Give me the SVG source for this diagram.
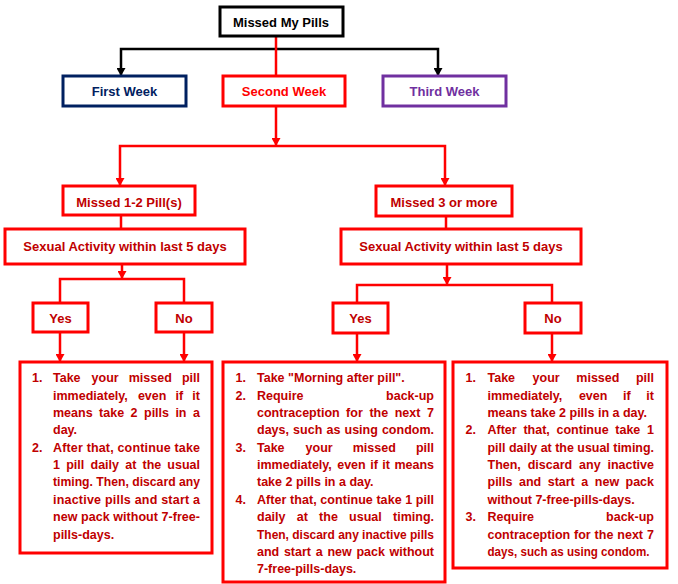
<svg xmlns="http://www.w3.org/2000/svg" width="678" height="584" viewBox="0 0 678 584">
<defs>
<style>
.box{fill:#fff;stroke-width:3}
.red{stroke:#ff0000}
.l{font-family:"Liberation Sans",Arial,sans-serif;font-weight:bold;font-size:13px;text-anchor:middle;fill:#c00000}
.t{font-family:"Liberation Sans",Arial,sans-serif;font-weight:bold;font-size:12.5px;fill:#c00000}
.e{text-anchor:end}
.c{fill:none;stroke-width:2.5}
</style>
<marker id="ar" markerUnits="userSpaceOnUse" markerWidth="9" markerHeight="9" refX="8" refY="4.5" orient="auto"><path d="M0,0 L8,4.5 L0,9 z" fill="#ff0000"/></marker>
<marker id="ab" markerUnits="userSpaceOnUse" markerWidth="9" markerHeight="9" refX="8" refY="4.5" orient="auto"><path d="M0,0 L8,4.5 L0,9 z" fill="#000"/></marker>
</defs>
<rect width="678" height="584" fill="#fff"/>
<g id="connectors">
<path class="c" stroke="#000" d="M276,49 H121 V76" marker-end="url(#ab)"/>
<path class="c" stroke="#000" d="M276,49 H438 V76" marker-end="url(#ab)"/>
<path class="c" stroke="#ff0000" d="M276,36 V76"/>
<path class="c" stroke="#ff0000" d="M276,106 V146" marker-end="url(#ar)"/>
<path class="c" stroke="#ff0000" d="M276,146 H120 V186" marker-end="url(#ar)"/>
<path class="c" stroke="#ff0000" d="M276,146 H445 V186" marker-end="url(#ar)"/>
<path class="c" stroke="#ff0000" d="M121,215 V229"/>
<path class="c" stroke="#ff0000" d="M122,264 V279" marker-end="url(#ar)"/>
<path class="c" stroke="#ff0000" d="M60,303 V279 H184 V303"/>
<path class="c" stroke="#ff0000" d="M60,332 V362" marker-end="url(#ar)"/>
<path class="c" stroke="#ff0000" d="M184,332 V362" marker-end="url(#ar)"/>
<path class="c" stroke="#ff0000" d="M446,216 V229"/>
<path class="c" stroke="#ff0000" d="M447,264 V285" marker-end="url(#ar)"/>
<path class="c" stroke="#ff0000" d="M357,303 V285 H552 V303"/>
<path class="c" stroke="#ff0000" d="M357,333 V362" marker-end="url(#ar)"/>
<path class="c" stroke="#ff0000" d="M552,333 V362" marker-end="url(#ar)"/>
</g>
<g id="root"><rect class="box" x="220" y="7" width="123" height="29" stroke="#000"/><text class="l" x="281" y="27" fill="#000" style="fill:#000">Missed My Pills</text></g>
<g id="first-week"><rect class="box" x="63" y="76" width="123" height="30" stroke="#002060"/><text class="l" x="124.5" y="96" style="fill:#002060">First Week</text></g>
<g id="second-week"><rect class="box red" x="223" y="76" width="122" height="30"/><text class="l" x="284" y="96" style="fill:#ff0000">Second Week</text></g>
<g id="third-week"><rect class="box" x="383" y="76" width="123" height="30" stroke="#7030a0"/><text class="l" x="444.5" y="96" style="fill:#7030a0">Third Week</text></g>
<g id="missed-1-2"><rect class="box red" x="63" y="186" width="132" height="29"/><text class="l" x="129" y="206.5">Missed 1-2 Pill(s)</text></g>
<g id="missed-3"><rect class="box red" x="376" y="186" width="136" height="30"/><text class="l" x="444" y="207">Missed 3 or more</text></g>
<g id="sexual-1"><rect class="box red" x="5" y="229" width="240" height="35"/><text class="l" x="125" y="250.5">Sexual Activity within last 5 days</text></g>
<g id="sexual-2"><rect class="box red" x="341" y="229" width="240" height="35"/><text class="l" x="461" y="250.5">Sexual Activity within last 5 days</text></g>
<g id="yes-1"><rect class="box red" x="33" y="303" width="55" height="29"/><text class="l" x="60.5" y="323">Yes</text></g>
<g id="no-1"><rect class="box red" x="156" y="303" width="56" height="29"/><text class="l" x="184" y="323">No</text></g>
<g id="yes-2"><rect class="box red" x="333" y="303" width="55" height="30"/><text class="l" x="360.5" y="323">Yes</text></g>
<g id="no-2"><rect class="box red" x="525" y="303" width="56" height="30"/><text class="l" x="553" y="323">No</text></g>
<g id="advice-left">
<rect class="box red" x="20" y="362" width="192" height="191"/>
<text class="t" x="32" y="382.3">1.</text>
<text class="t" y="382.3"><tspan x="53">Take</tspan><tspan x="91.6">your</tspan><tspan x="128.7">missed</tspan></text><text class="t e" x="200" y="382.3">pill</text>
<text class="t" y="399.7"><tspan x="53">immediately,</tspan><tspan x="137.9">even</tspan><tspan x="175.6">if</tspan></text><text class="t e" x="200" y="399.7">it</text>
<text class="t" y="417"><tspan x="53">means</tspan><tspan x="99.1">take</tspan><tspan x="130.5">2</tspan><tspan x="144">pills</tspan><tspan x="175.4">in</tspan></text><text class="t e" x="200" y="417">a</text>
<text class="t" x="53" y="434.4">day.</text>
<text class="t" x="32" y="451.7">2.</text>
<text class="t" x="53" y="451.7" textLength="147" lengthAdjust="spacing">After that, continue take</text>
<text class="t" y="469.1"><tspan x="53">1</tspan><tspan x="66.2">pill</tspan><tspan x="90.5">daily</tspan><tspan x="125.2">at</tspan><tspan x="142.5">the</tspan></text><text class="t e" x="200" y="469.1">usual</text>
<text class="t" x="53" y="486.4" textLength="147" lengthAdjust="spacingAndGlyphs">timing. Then, discard any</text>
<text class="t" x="53" y="503.8" textLength="147" lengthAdjust="spacing">inactive pills and start a</text>
<text class="t" x="53" y="521.1" textLength="147" lengthAdjust="spacing">new pack without 7-free-</text>
<text class="t" x="53" y="538.5">pills-days.</text>
</g>
<g id="advice-middle">
<rect class="box red" x="223" y="362" width="222" height="220"/>
<text class="t" x="235.5" y="382.3">1.</text>
<text class="t" x="257" y="382.3">Take "Morning after pill".</text>
<text class="t" x="235.5" y="399.7">2.</text>
<text class="t" x="257" y="399.7">Require</text><text class="t e" x="434" y="399.7">back-up</text>
<text class="t" y="417"><tspan x="257">contraception</tspan><tspan x="346.1">for</tspan><tspan x="369.4">the</tspan><tspan x="394.7">next</tspan></text><text class="t e" x="434" y="417">7</text>
<text class="t" y="434.4"><tspan x="257">days,</tspan><tspan x="293.1">such</tspan><tspan x="326.5">as</tspan><tspan x="344.5">using</tspan></text><text class="t e" x="434" y="434.4">condom.</text>
<text class="t" x="235.5" y="451.7">3.</text>
<text class="t" y="451.7"><tspan x="257">Take</tspan><tspan x="305.6">your</tspan><tspan x="352.7">missed</tspan></text><text class="t e" x="434" y="451.7">pill</text>
<text class="t" y="469.1"><tspan x="257">immediately,</tspan><tspan x="337.2">even</tspan><tspan x="370.2">if</tspan><tspan x="382.3">it</tspan></text><text class="t e" x="434" y="469.1">means</text>
<text class="t" x="257" y="486.4">take 2 pills in a day.</text>
<text class="t" x="235.5" y="503.8">4.</text>
<text class="t" x="257" y="503.8" textLength="177" lengthAdjust="spacing">After that, continue take 1 pill</text>
<text class="t" y="521.1"><tspan x="257">daily</tspan><tspan x="296.75">at</tspan><tspan x="319.1">the</tspan><tspan x="349.1">usual</tspan></text><text class="t e" x="434" y="521.1">timing.</text>
<text class="t" x="257" y="538.5" textLength="177" lengthAdjust="spacingAndGlyphs">Then, discard any inactive pills</text>
<text class="t" y="555.8"><tspan x="257">and</tspan><tspan x="283.9">start</tspan><tspan x="315.7">a</tspan><tspan x="327.4">new</tspan><tspan x="356.4">pack</tspan></text><text class="t e" x="434" y="555.8">without</text>
<text class="t" x="257" y="573.2">7-free-pills-days.</text>
</g>
<g id="advice-right">
<rect class="box red" x="453" y="362" width="214" height="206"/>
<text class="t" x="465.5" y="382.3">1.</text>
<text class="t" y="382.3"><tspan x="487.5">Take</tspan><tspan x="532.6">your</tspan><tspan x="576.3">missed</tspan></text><text class="t e" x="654" y="382.3">pill</text>
<text class="t" y="399.7"><tspan x="487.5">immediately,</tspan><tspan x="578.9">even</tspan><tspan x="623.1">if</tspan></text><text class="t e" x="654" y="399.7">it</text>
<text class="t" x="487.5" y="417">means take 2 pills in a day.</text>
<text class="t" x="465.5" y="434.4">2.</text>
<text class="t" y="434.4"><tspan x="487.5">After</tspan><tspan x="523.4">that,</tspan><tspan x="556.5">continue</tspan><tspan x="615.3">take</tspan></text><text class="t e" x="654" y="434.4">1</text>
<text class="t" x="487.5" y="451.7" textLength="166.5" lengthAdjust="spacingAndGlyphs">pill daily at the usual timing.</text>
<text class="t" y="469.1"><tspan x="487.5">Then,</tspan><tspan x="527.7">discard</tspan><tspan x="579.1">any</tspan></text><text class="t e" x="654" y="469.1">inactive</text>
<text class="t" y="486.4"><tspan x="487.5">pills</tspan><tspan x="519">and</tspan><tspan x="547.7">start</tspan><tspan x="581.3">a</tspan><tspan x="594.8">new</tspan></text><text class="t e" x="654" y="486.4">pack</text>
<text class="t" x="487.5" y="503.8">without 7-free-pills-days.</text>
<text class="t" x="465.5" y="521.1">3.</text>
<text class="t" x="487.5" y="521.1">Require</text><text class="t e" x="654" y="521.1">back-up</text>
<text class="t" y="538.5"><tspan x="487.5">contraception</tspan><tspan x="574">for</tspan><tspan x="594.6">the</tspan><tspan x="617.3">next</tspan></text><text class="t e" x="654" y="538.5">7</text>
<text class="t" x="487.5" y="555.8" textLength="162" lengthAdjust="spacingAndGlyphs">days, such as using condom.</text>
</g>
</svg>
